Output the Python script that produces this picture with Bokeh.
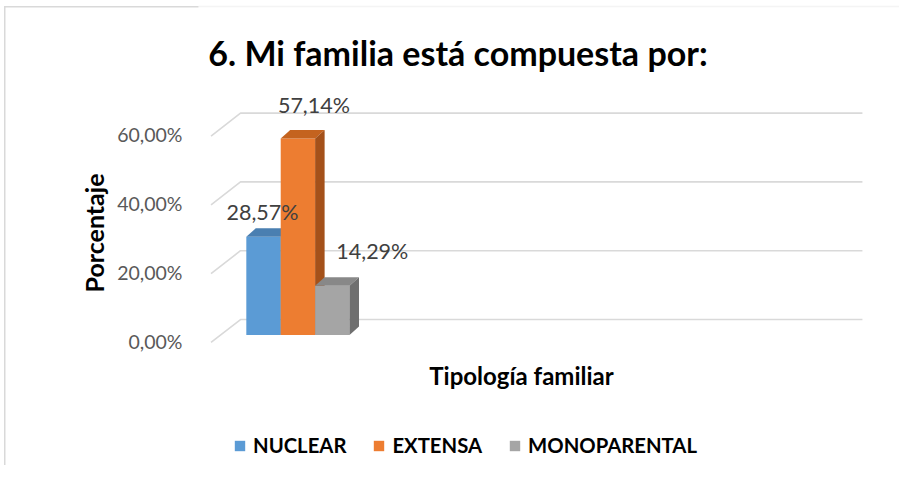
from bokeh.plotting import figure
from bokeh.models import (Range1d, LinearAxis, FixedTicker, Label, Legend,
                          LegendItem, ColumnDataSource, BoxAnnotation)
from bokeh.embed import file_html
from bokeh.resources import INLINE

# ---- data ----
categories = ["NUCLEAR", "EXTENSA", "MONOPARENTAL"]
values = [28.57, 57.14, 14.29]
value_labels = ["28,57%", "57,14%", "14,29%"]
tick_values = [0, 20, 40, 60]
tick_labels = ["0,00%", "20,00%", "40,00%", "60,00%"]

# ---- style ----
front_colors = ["#5b9bd5", "#ed7d31", "#a5a5a5"]
top_colors = ["#4a7fb1", "#c4631f", "#888888"]
side_colors = ["#3f6d98", "#a4511a", "#6f6f6f"]
label_dx = [-1, 16, 40]      # screen px offsets of value labels
label_dy = [-25, -33, -35]
FONT = "Lato"
GRID = "#d9d9d9"

# 3D depth offsets (data units)
DX, DY = 0.276, 2.47
BACK_OFF, FRONT_OFF = 4.5, -2.18
X_BACK, X_FRONT, X_RIGHT = -0.669, -1.526, 17.41

p = figure(width=899, height=465, output_backend="svg", toolbar_location=None,
           x_range=Range1d(-1.890, 18.488), y_range=Range1d(-37.94, 97.24),
           x_axis_location=None, y_axis_location=None,
           min_border_left=198, min_border_right=0, min_border_top=0,
           min_border_bottom=0, title=None)
p.grid.visible = False
p.outline_line_color = None
p.background_fill_color = "white"
p.border_fill_color = None
p.styles = {
    "background-color": "white",
    "background-image": "linear-gradient(#d9d9d9,#d9d9d9), linear-gradient(#d9d9d9,#d9d9d9)",
    "background-size": "100% 1.5px, 1.5px 100%",
    "background-position": "4px 6px, 4px 6px",
    "background-repeat": "no-repeat",
}

p.extra_y_ranges = {"lab": Range1d(-35.94, 98.84)}
ax = LinearAxis(y_range_name="lab", ticker=FixedTicker(ticks=tick_values),
                major_label_overrides=dict(zip(tick_values, tick_labels)),
                axis_line_color=None, major_tick_line_color=None,
                minor_tick_line_color=None,
                major_label_text_font=FONT, major_label_text_font_size="19.5px",
                major_label_text_color="#595959", major_label_standoff=10,
                axis_label="Porcentaje", axis_label_text_font=FONT,
                axis_label_text_font_style="bold",
                axis_label_text_font_size="25px",
                axis_label_text_color="#000000", axis_label_standoff=5)
p.add_layout(ax, "left")

# outer border of the chart area (part inside the plotting frame)
p.add_layout(BoxAnnotation(left=-194, right=900, top=459, bottom=-100,
                           left_units="screen", right_units="screen",
                           top_units="screen", bottom_units="screen",
                           fill_alpha=0, line_color=GRID, line_width=1.5))

# back-wall gridlines with side-wall diagonals
p.multi_line(xs=[[X_FRONT, X_BACK, X_RIGHT] for t in tick_values],
             ys=[[t + FRONT_OFF, t + BACK_OFF, t + BACK_OFF] for t in tick_values],
             line_color=GRID, line_width=1.6)

# 3D bars
items = []
for i, (cat, v) in enumerate(zip(categories, values)):
    src = ColumnDataSource(dict(x=[i], top=[v]))
    r = p.vbar(x="x", top="top", bottom=0, width=1, source=src,
               fill_color=front_colors[i], line_color=None)
    p.patch([i - 0.5, i + 0.5, i + 0.5 + DX, i - 0.5 + DX],
            [v, v, v + DY, v + DY], fill_color=top_colors[i], line_color=None)
    p.patch([i + 0.5, i + 0.5 + DX, i + 0.5 + DX, i + 0.5],
            [0, DY, v + DY, v], fill_color=side_colors[i], line_color=None)
    items.append(LegendItem(label=cat, renderers=[r]))

lsrc = ColumnDataSource(dict(x=list(range(len(values))), y=values,
                             text=value_labels, dx=label_dx, dy=label_dy))
p.text(x="x", y="y", text="text", x_offset="dx", y_offset="dy", source=lsrc,
       text_align="center", text_baseline="middle", text_font_size="21.5px",
       text_font={"value": FONT}, text_color="#404040")

p.add_layout(Label(x=259.5, y=413, x_units="screen", y_units="screen",
                   text="6. Mi familia está compuesta por:",
                   text_align="center", text_baseline="middle",
                   text_font=FONT, text_font_style="bold",
                   text_font_size="34px", text_color="#000000"))
p.add_layout(Label(x=323, y=90, x_units="screen", y_units="screen",
                   text="Tipología familiar", text_align="center",
                   text_baseline="middle", text_font=FONT,
                   text_font_style="bold", text_font_size="24px",
                   text_color="#000000"))

legend = Legend(items=items, orientation="horizontal", location=(35, 8),
                border_line_color=None, background_fill_alpha=0,
                label_text_font=FONT, label_text_font_style="bold",
                label_text_font_size="20.3px", label_text_color="#000000",
                glyph_width=13, glyph_height=13, spacing=26, padding=0,
                margin=0, label_standoff=7)
p.add_layout(legend)

open("out.html", "w").write(file_html(p, INLINE))
